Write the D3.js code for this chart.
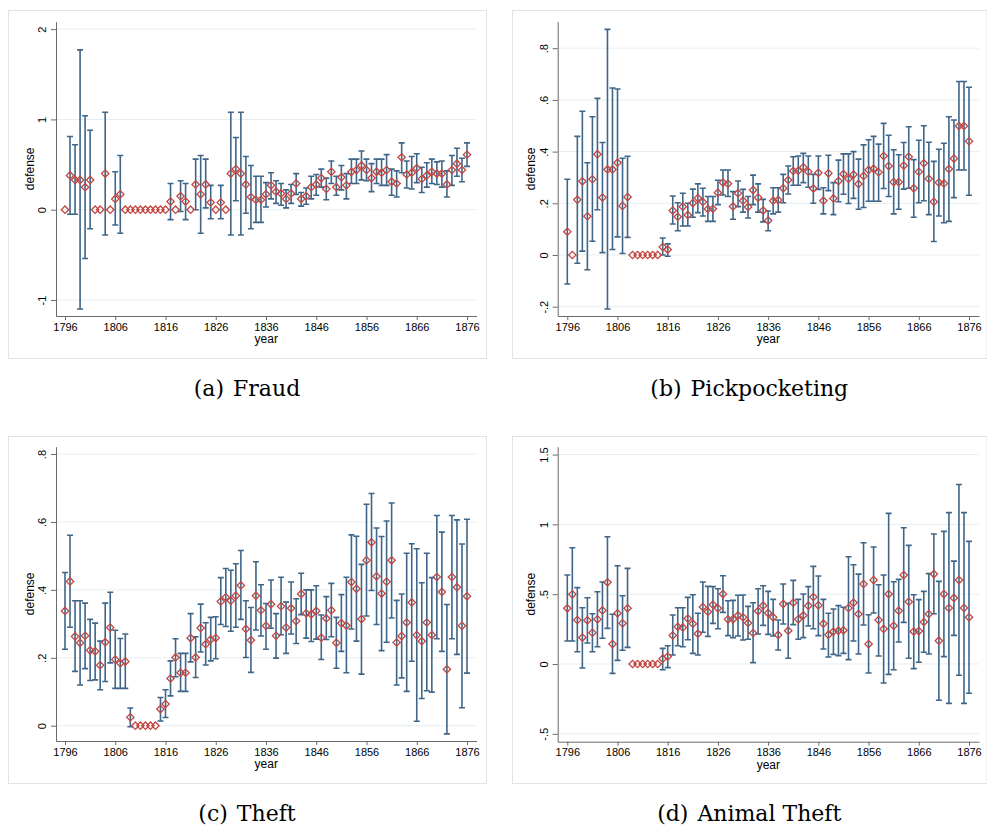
<!DOCTYPE html>
<meta charset="utf-8">
<style>
    body { margin: 0; background: #fff; }
    text { font-family: "Liberation Sans", Arial, sans-serif; fill: #000; }
    rect.box { fill: #fff; stroke: #dfe4e7; stroke-width: 1; }
    .grid line { stroke: #e7eef0; stroke-width: 1; }
    .axis path, .axis line { stroke: #6a6a6a; stroke-width: 1; }
    path.bar { stroke: #3f6688; stroke-width: 1.6; fill: none; }
    path.marker { fill: none; stroke: #c4453f; stroke-width: 1.3; }
    text.caption { font-family: "DejaVu Serif", serif; font-size: 22px; }
</style>
<body>
<script src="https://cdn.jsdelivr.net/npm/d3@7"></script>
<script>

    var years = d3.range(1796, 1877);
    var yearTicks = [1796, 1806, 1816, 1826, 1836, 1846, 1856, 1866, 1876];

    // (a) Fraud
    var fraudEst = [0, .38, .33, .33, .25, .33, 0, 0, .40, 0,
        .12, .17, 0, 0, 0, 0, 0, 0, 0, 0,
        0, .09, 0, .15, .09, 0, .28, .17, .28, .08,
        0, .08, 0, .40, .45, .40, .28, .14, .11, .11,
        .17, .27, .20, .18, .12, .18, .29, .12, .15, .25,
        .28, .35, .23, .42, .25, .36, .27, .42, .44, .49,
        .44, .35, .42, .41, .44, .31, .29, .58, .39, .41,
        .46, .34, .38, .42, .40, .40, .28, .44, .51, .44,
        .61];
    var fraudLo = [null, -.05, -.05, -1.10, -.54, -.21, null, null, -.28, null,
        -.17, -.26, null, null, null, null, null, null, null, null,
        null, -.11, null, -.02, -.11, null, 0, -.26, .02, -.10,
        null, -.10, null, -.28, .10, -.28, -.04, -.21, -.14, -.14,
        .03, .12, .07, .05, .02, .07, .17, .04, .06, .12,
        .16, .25, .11, .29, .16, .22, .12, .29, .29, .33,
        .32, .20, .29, .27, .27, .16, .14, .41, .24, .23,
        .30, .19, .25, .29, .28, .25, .14, .27, .37, .31,
        .48];
    var fraudHi = [null, .81, .72, 1.77, 1.04, .88, null, null, 1.08, null,
        .42, .60, null, null, null, null, null, null, null, null,
        null, .29, null, .32, .29, null, .56, .60, .56, .27,
        null, .27, null, 1.08, .80, 1.08, .59, .49, .37, .37,
        .30, .41, .32, .29, .22, .28, .40, .19, .24, .37,
        .39, .45, .35, .54, .37, .49, .40, .56, .56, .65,
        .56, .51, .56, .56, .61, .45, .43, .74, .54, .59,
        .62, .47, .52, .56, .53, .54, .43, .60, .68, .57,
        .74];
    var fraudTicks = [-1, 0, 1, 2];

    // (b) Pickpocketing
    var pickEst = [.09, 0, .214, .285, .15, .293, .39, .222, .331, .331,
        .357, .19, .224, 0, 0, 0, 0, 0, 0, .031,
        .021, .172, .148, .187, .155, .201, .22, .205, .178, .179,
        .241, .28, .276, .188, .239, .21, .186, .251, .222, .172,
        .133, .21, .213, .258, .29, .325, .326, .339, .322, .257,
        .318, .21, .316, .219, .286, .313, .295, .311, .275, .306,
        .329, .334, .32, .383, .344, .282, .282, .346, .38, .258,
        .322, .355, .295, .206, .28, .277, .333, .373, .499, .499,
        .44];
    var pickLo = [-.112, null, -.032, .015, -.057, .053, .175, .009, -.209, .021,
        .07, .006, .068, null, null, null, null, null, null, 0,
        -.005, .12, .094, .112, .112, .146, .164, .151, .13, .13,
        .195, .232, .226, .138, .187, .166, .143, .195, .166, .128,
        .094, .159, .166, .202, .236, .27, .27, .28, .262, .2,
        .254, .159, .249, .156, .206, .235, .199, .219, .177, .184,
        .208, .208, .208, .257, .226, .159, .177, .255, .258, .146,
        .202, .21, .156, .052, .151, .125, .13, .222, .329, .329,
        .231];
    var pickHi = [.293, null, .459, .556, .357, .535, .606, .435, .873, .646,
        .642, .374, .382, null, null, null, null, null, null, .066,
        .043, .228, .202, .239, .2, .255, .275, .258, .226, .226,
        .289, .329, .329, .245, .286, .254, .226, .309, .275, .215,
        .17, .26, .26, .312, .344, .38, .383, .393, .383, .312,
        .383, .26, .386, .28, .367, .391, .391, .4, .371, .426,
        .446, .459, .429, .509, .463, .407, .388, .435, .496, .369,
        .444, .5, .436, .362, .409, .432, .535, .522, .671, .671,
        .649];
    var pickTicks = [-.2, 0, .2, .4, .6, .8];

    // (c) Theft
    var theftEst = [.338, .425, .263, .244, .265, .222, .219, .178, .246, .289,
        .195, .184, .189, .025, 0, 0, 0, 0, 0, .049,
        .064, .139, .201, .156, .156, .258, .201, .288, .24, .254,
        .258, .366, .378, .368, .383, .413, .285, .252, .383, .34,
        .294, .358, .265, .352, .289, .346, .308, .388, .331, .328,
        .338, .259, .316, .34, .244, .302, .295, .423, .403, .314,
        .487, .54, .44, .389, .424, .487, .245, .264, .304, .363,
        .267, .249, .304, .267, .438, .394, .166, .438, .408, .294,
        .381];
    var theftLo = [.225, .29, .16, .12, .168, .133, .135, .106, .13, .185,
        .11, .11, .11, -.003, null, null, null, null, null, .014,
        .024, .088, .144, .101, .101, .188, .142, .217, .179, .191,
        .197, .298, .292, .278, .29, .313, .201, .157, .282, .264,
        .225, .287, .199, .268, .213, .27, .242, .327, .258, .248,
        .255, .195, .254, .262, .169, .219, .156, .285, .249, .152,
        .323, .398, .298, .221, .246, .317, .12, .141, .101, .19,
        .013, .08, .103, .099, .256, .219, -.024, .256, .21, .053,
        .155];
    var theftHi = [.451, .561, .368, .368, .361, .313, .302, .249, .361, .393,
        .281, .257, .27, .052, null, null, null, null, null, .083,
        .106, .191, .256, .213, .213, .33, .262, .358, .303, .319,
        .321, .436, .463, .458, .477, .516, .368, .348, .483, .415,
        .36, .429, .33, .437, .364, .423, .374, .449, .4, .4,
        .412, .326, .38, .419, .319, .386, .437, .562, .558, .475,
        .652, .684, .582, .557, .603, .656, .369, .388, .508, .536,
        .521, .421, .508, .436, .619, .57, .357, .619, .606, .535,
        .608];
    var theftTicks = [0, .2, .4, .6, .8];

    // (d) Animal Theft
    var animalEst = [.399, .499, .315, .189, .313, .224, .32, .384, .585, .143,
        .363, .291, .399, 0, 0, 0, 0, 0, 0, .038,
        .053, .205, .267, .262, .325, .289, .217, .408, .375, .425,
        .399, .501, .32, .32, .348, .334, .294, .222, .379, .418,
        .365, .334, .208, .43, .239, .439, .32, .348, .418, .48,
        .42, .289, .21, .232, .239, .241, .401, .439, .358, .573,
        .143, .601, .315, .251, .501, .274, .382, .637, .446, .232,
        .236, .301, .358, .644, .167, .501, .401, .473, .601, .401,
        .334];
    var animalLo = [.165, .165, .088, -.029, .15, .088, .124, .184, .255, -.067,
        .026, .098, .119, null, null, null, null, null, null, -.041,
        -.026, .064, .131, .124, .174, .076, .064, .227, .198, .291,
        .253, .37, .203, .189, .2, .172, .177, .01, .215, .277,
        .212, .2, .1, .286, .041, .282, .177, .189, .272, .253,
        .203, .107, .05, .069, .06, .076, .031, .165, .072, .279,
        -.064, .365, .057, -.136, -.074, -.041, .158, .298, .041, -.033,
        .012, .084, .072, .36, -.26, .053, -.282, .205, -.081, -.282,
        -.21];
    var animalHi = [.637, .833, .547, .403, .475, .36, .518, .587, .912, .356,
        .704, .489, .685, null, null, null, null, null, null, .112,
        .131, .351, .403, .403, .477, .496, .363, .587, .556, .554,
        .539, .632, .453, .456, .492, .494, .413, .439, .539, .561,
        .52, .463, .315, .573, .434, .599, .463, .501, .554, .699,
        .63, .463, .363, .394, .418, .406, .768, .711, .644, .869,
        .353, .838, .568, .637, 1.079, .589, .606, .976, .85, .496,
        .461, .52, .647, .931, .592, .95, 1.084, .737, 1.286, 1.084,
        .878];
    var animalTicks = [-.5, 0, .5, 1, 1.5];

    // layout of the four panels: box [x0,y0,x1,y1], plot [left,top,right,bottom],
    // pixel span of 1796..1876 and the value range covered by the plot height
    var panels = [
        {est: fraudEst, lo: fraudLo, hi: fraudHi, ticks: fraudTicks, tag: "(a)", name: "Fraud",
            box: [8, 10, 486, 358], plot: [56, 21.7, 476.5, 316], span: [65, 467], ydom: [-1.177, 2.082]},
        {est: pickEst, lo: pickLo, hi: pickHi, ticks: pickTicks, tag: "(b)", name: "Pickpocketing",
            box: [512, 10, 986.5, 358], plot: [557.7, 21.7, 979, 316], span: [567.3, 969], ydom: [-0.236, 0.9025]},
        {est: theftEst, lo: theftLo, hi: theftHi, ticks: theftTicks, tag: "(c)", name: "Theft",
            box: [8, 436, 486, 783], plot: [56, 446.7, 476.5, 741], span: [65, 467], ydom: [-0.045, 0.8216]},
        {est: animalEst, lo: animalLo, hi: animalHi, ticks: animalTicks, tag: "(d)", name: "Animal Theft",
            box: [512, 436, 986.5, 783], plot: [557.7, 446.7, 979, 741.7], span: [567.3, 969], ydom: [-0.5566, 1.5565]}
    ];

    // Stata style labels: .2 instead of 0.2
    function stata(v) {
        return String(+v.toFixed(2)).replace(/^(-?)0\./, "$1.");
    }

    var diamond = d3.symbol(d3.symbolSquare, 27)();

    var svg = d3.select("body").append("svg")
            .attr("width", 987)
            .attr("height", 832);

    panels.forEach(function(p) {
        var g = svg.append("g");
        var left = p.plot[0], top = p.plot[1], right = p.plot[2], bottom = p.plot[3];

        g.append("rect")
                .attr("class", "box")
                .attr("x", p.box[0] + 0.5)
                .attr("y", p.box[1] + 0.5)
                .attr("width", p.box[2] - p.box[0])
                .attr("height", p.box[3] - p.box[1]);

        var x = d3.scaleLinear().domain([1796, 1876]).range(p.span);
        x.domain([x.invert(left), x.invert(right)]).range([left, right]);

        var y = d3.scaleLinear().domain(p.ydom).range([bottom, top]);

        g.append("g")
                .attr("class", "grid")
            .selectAll("line")
            .data(p.ticks)
            .join("line")
                .attr("x1", left)
                .attr("x2", right)
                .attr("y1", function(d) { return y(d); })
                .attr("y2", function(d) { return y(d); });

        var yAxis = g.append("g")
                .attr("class", "axis")
                .attr("transform", "translate(" + left + ",0)")
                .call(d3.axisLeft(y).tickValues(p.ticks).tickSize(5).tickSizeOuter(0).tickFormat(stata));
        yAxis.attr("font-family", null).attr("font-size", 11);
        yAxis.selectAll("text")
                .attr("x", null)
                .attr("dy", null)
                .attr("text-anchor", "middle")
                .attr("transform", "translate(-10,0) rotate(-90)");

        var xAxis = g.append("g")
                .attr("class", "axis")
                .attr("transform", "translate(0," + bottom + ")")
                .call(d3.axisBottom(x).tickValues(yearTicks).tickSize(4).tickSizeOuter(0).tickFormat(d3.format("d")));
        xAxis.attr("font-family", null).attr("font-size", 11);
        xAxis.selectAll("text").attr("y", 7).attr("dy", "0.71em");

        g.append("text")
                .attr("text-anchor", "middle")
                .attr("font-size", 12)
                .attr("transform", "translate(" + (left - 22.5) + "," + ((top + bottom) / 2) + ") rotate(-90)")
                .text("defense");

        g.append("text")
                .attr("text-anchor", "middle")
                .attr("font-size", 12)
                .attr("x", (left + right) / 2)
                .attr("y", bottom + 27)
                .text("year");

        var rows = years.map(function(yr, i) {
            return {year: yr, est: p.est[i], lo: p.lo[i], hi: p.hi[i]};
        });

        g.append("g")
            .selectAll("path")
            .data(rows.filter(function(d) { return d.lo !== null; }))
            .join("path")
                .attr("class", "bar")
                .attr("d", function(d) {
                    var cx = x(d.year), y0 = y(d.lo), y1 = y(d.hi);
                    return "M" + (cx - 3) + "," + y1 + "H" + (cx + 3) +
                        "M" + cx + "," + y1 + "V" + y0 +
                        "M" + (cx - 3) + "," + y0 + "H" + (cx + 3);
                });

        g.append("g")
            .selectAll("path")
            .data(rows)
            .join("path")
                .attr("class", "marker")
                .attr("d", diamond)
                .attr("transform", function(d) {
                    return "translate(" + x(d.year) + "," + y(d.est) + ") rotate(45)";
                });

        var cap = g.append("text")
                .attr("class", "caption")
                .attr("text-anchor", "middle")
                .attr("x", (p.box[0] + p.box[2]) / 2)
                .attr("y", p.box[3] + 38);
        cap.append("tspan").text(p.tag);
        cap.append("tspan").attr("dx", 9).text(p.name);
    });

</script>
